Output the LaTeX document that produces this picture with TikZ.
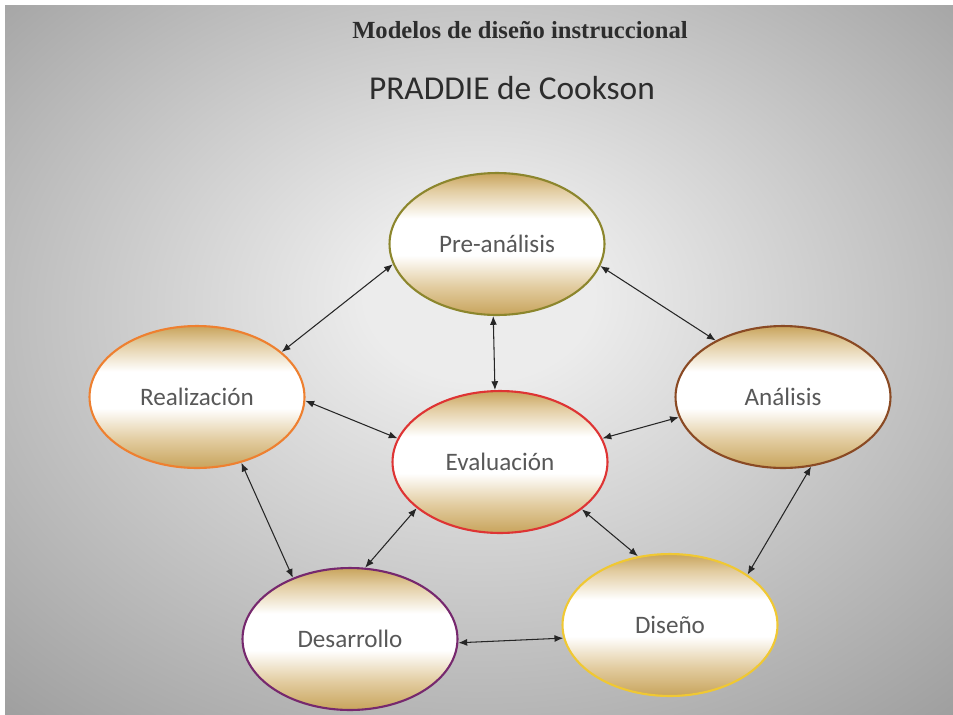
\documentclass[tikz,border=0pt]{standalone}
\usepackage{fontspec}
\setmainfont{Carlito}
\newfontfamily\headingfont{Liberation Serif}
\usetikzlibrary{shapes.geometric, arrows.meta}

\definecolor{glowin}{RGB}{236,236,236}
\definecolor{glowout}{RGB}{156,156,156}
\definecolor{goldrim}{RGB}{200,164,92}
\definecolor{tanmid}{RGB}{226,204,160}
\definecolor{labelgray}{RGB}{88,88,88}
\definecolor{titleink}{RGB}{45,45,45}
\definecolor{olivering}{RGB}{140,134,45}
\definecolor{redring}{RGB}{222,52,52}
\definecolor{brownring}{RGB}{138,74,36}
\definecolor{orangering}{RGB}{238,128,48}
\definecolor{purplering}{RGB}{118,40,110}
\definecolor{yellowring}{RGB}{240,200,50}

\pgfdeclareradialshading{backglow}{\pgfpoint{0bp}{5bp}}{color(0bp)=(glowin); color(6bp)=(glowin); color(38bp)=(glowout); color(60bp)=(glowout)}
\pgfdeclareverticalshading{goldband}{100bp}{color(0bp)=(goldrim); color(25bp)=(goldrim); color(35bp)=(tanmid); color(46bp)=(white); color(59bp)=(white); color(69bp)=(tanmid); color(75bp)=(goldrim); color(100bp)=(goldrim)}

\tikzset{
  phase/.style={ellipse, draw, line width=1.2pt, minimum width=4.3cm, minimum height=2.84cm, inner sep=0pt,
    shading=goldband, text=labelgray, font=\fontsize{14.3}{16}\selectfont},
  link/.style={{Latex[length=5pt,width=4pt]}-{Latex[length=5pt,width=4pt]}, line width=0.6pt, black!85}
}

\begin{document}
\begin{tikzpicture}[x=0.02cm, y=-0.02cm]
  \useasboundingbox (0,0) rectangle (953,714);
  \fill[white] (0,0) rectangle (953,714);
  \shade[shading=backglow] (5,5) rectangle (953,714);

  % titles
  \node[font=\headingfont\bfseries\fontsize{14}{16}\selectfont, text=titleink] (heading) at (520,30) {Modelos de diseño instruccional};
  \node[font=\fontsize{19}{22}\selectfont, text=titleink] (subheading) at (512,88) {PRADDIE de Cookson};

  % phases
  \node[phase, draw=olivering] (pre) at (497,244) {Pre-análisis};
  \node[phase, draw=redring] (eval) at (500,462) {Evaluación};
  \node[phase, draw=brownring] (ana) at (783,397) {Análisis};
  \node[phase, draw=orangering] (real) at (197,397) {Realización};
  \node[phase, draw=purplering] (des) at (350,639) {Desarrollo};
  \node[phase, draw=yellowring] (dis) at (670,625) {Diseño};

  % links
  \draw[link] (real.28) -- (pre.191);
  \draw[link] (pre.-12) -- (ana.140);
  \draw[link] (pre.267) -- (eval.94);
  \draw[link] (real.-2) -- (eval.167);
  \draw[link] (ana.191) -- (eval.13);
  \draw[link] (real.-56) -- (des.133);
  \draw[link] (eval.209) -- (des.78);
  \draw[link] (eval.-30) -- (dis.115);
  \draw[link] (ana.-68) -- (dis.33);
  \draw[link] (des.-2) -- (dis.187);
\end{tikzpicture}
\end{document}
